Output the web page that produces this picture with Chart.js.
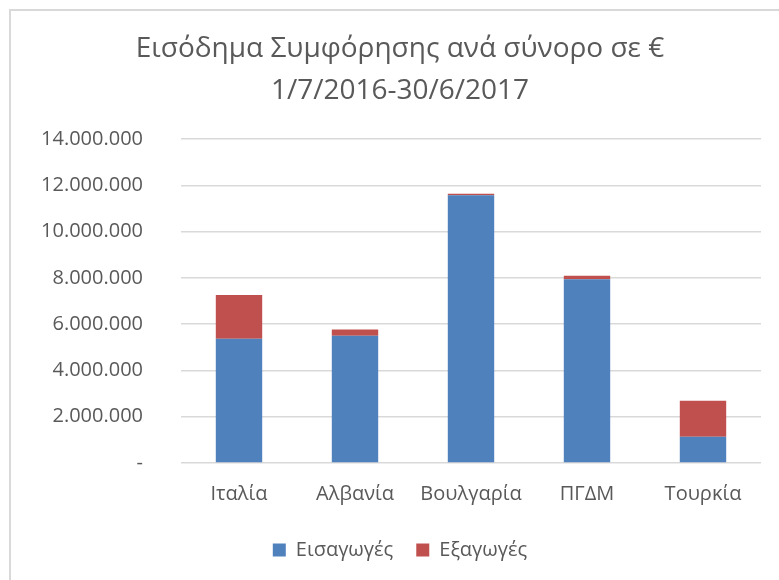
<!DOCTYPE html>
<html>
<head>
<meta charset="utf-8">
<script src="https://cdn.jsdelivr.net/npm/chart.js@4.4.0/dist/chart.umd.min.js"></script>
<style>
  html, body { margin: 0; padding: 0; background: #fff; }
  #wrap { position: relative; width: 779px; height: 580px; overflow: hidden; }
  #frame { position: absolute; left: 9px; top: 9px; width: 800px; height: 600px;
           border-left: 2px solid #d9d9d9; border-top: 2px solid #d9d9d9; }
  canvas { position: absolute; left: 0; top: 0; }
</style>
</head>
<body>
<div id="wrap">
  <div id="frame"></div>
  <canvas id="grafico" width="779" height="580"></canvas>
</div>
<script>
var synora = ['Ιταλία', 'Αλβανία', 'Βουλγαρία', 'ΠΓΔΜ', 'Τουρκία'];
var eisagoges = [5370000, 5500000, 11570000, 7940000, 1130000];
var exagoges = [1890000, 270000, 60000, 150000, 1560000];
var titlos = ['Εισόδημα Συμφόρησης ανά σύνορο σε €', '1/7/2016-30/6/2017'];

var grammatoseira = '"Open Sans", sans-serif';
var gkri = '#595959';

function morfi(v) {
    if (v === 0) return '-';
    return String(v).replace(/\B(?=(\d{3})+(?!\d))/g, '.');
}

var ctx = document.getElementById('grafico').getContext('2d');
var grafico = new Chart(ctx, {
    type: 'bar',
    data: {
        labels: synora,
        datasets: [{
            label: 'Εισαγωγές',
            data: eisagoges,
            backgroundColor: '#4f81bd'
        }, {
            label: 'Εξαγωγές',
            data: exagoges,
            backgroundColor: '#c0504d'
        }]
    },
    options: {
        responsive: false,
        animation: false,
        layout: { padding: { left: 39, right: 18, top: 28, bottom: 10 } },
        datasets: { bar: { barPercentage: 0.4, categoryPercentage: 1 } },
        plugins: {
            title: {
                display: true,
                text: titlos,
                color: gkri,
                font: { family: grammatoseira, size: 28, weight: 'normal', lineHeight: 1.5 },
                padding: { top: 0, bottom: 27 }
            },
            legend: {
                position: 'bottom',
                labels: {
                    color: gkri,
                    font: { family: grammatoseira, size: 20 },
                    boxWidth: 13,
                    boxHeight: 13,
                    padding: 23
                }
            },
            tooltip: { enabled: false }
        },
        scales: {
            x: {
                stacked: true,
                grid: { display: false },
                border: { display: false },
                ticks: { color: gkri, font: { family: grammatoseira, size: 20 }, padding: 11 }
            },
            y: {
                stacked: true,
                min: 0,
                max: 14000000,
                border: { display: false },
                grid: { color: '#d9d9d9', lineWidth: 1.5, drawTicks: false },
                afterFit: function (scale) { scale.width = 142; },
                ticks: {
                    stepSize: 2000000,
                    color: gkri,
                    font: { family: grammatoseira, size: 20 },
                    padding: 38,
                    callback: function (v) { return morfi(v); }
                }
            }
        }
    }
});
</script>
</body>
</html>
